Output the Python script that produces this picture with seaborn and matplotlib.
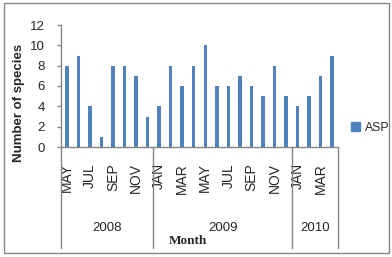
import matplotlib
matplotlib.use("Agg")
import numpy as np
import pandas as pd
import seaborn as sns
import matplotlib.pyplot as plt
from matplotlib.patches import Patch, Rectangle

# data
years = ["2008", "2009", "2010"]
months_2008 = ["MAY", "JUN", "JUL", "AUG", "SEP", "OCT", "NOV", "DEC"]
months_2009 = ["JAN", "FEB", "MAR", "APR", "MAY", "JUN", "JUL", "AUG", "SEP", "OCT", "NOV", "DEC"]
months_2010 = ["JAN", "FEB", "MAR", "APR"]
asp_2008 = [8, 9, 4, 1, 8, 8, 7, 3]
asp_2009 = [4, 8, 6, 8, 10, 6, 6, 7, 6, 5, 8, 5]
asp_2010 = [4, 5, 7, 9]

month_groups = [months_2008, months_2009, months_2010]
value_groups = [asp_2008, asp_2009, asp_2010]

rows = []
for yr, mons, vals in zip(years, month_groups, value_groups):
    for m, v in zip(mons, vals):
        rows.append({"Year": yr, "Month": m, "Key": f"{m} {yr}", "ASP": v})
df = pd.DataFrame(rows)

sns.set_style("white")
plt.rcParams['font.family'] = ['Liberation Sans', 'DejaVu Sans']

W, H = 392, 257
fig = plt.figure(figsize=(W / 100, H / 100), dpi=100)
x0, x1, y_top, y_bot = 61, 338, 25, 147
ax = fig.add_axes([x0 / W, 1 - y_bot / H, (x1 - x0) / W, (y_bot - y_top) / H])

bar_color = "#4F81BD"
sns.barplot(data=df, x="Key", y="ASP", order=list(df["Key"]), color=bar_color,
            saturation=1, width=0.3, ax=ax, errorbar=None, linewidth=0)

ax.set_xlim(-0.5, len(df) - 0.5)
ax.set_ylim(0, 12)
ax.set_yticks(np.arange(0, 13, 2))
ax.set_xlabel("")
ax.set_ylabel("")

gray = "#868686"
for s in ["top", "right"]:
    ax.spines[s].set_visible(False)
for s in ["left", "bottom"]:
    ax.spines[s].set_color(gray)
    ax.spines[s].set_linewidth(1)

ax.tick_params(axis="y", left=True, length=3, width=1, color=gray, pad=8.5, labelsize=9.5)
# every other month label, like the original
pos = list(range(0, len(df), 2))
ax.set_xticks(pos)
ax.set_xticklabels([df["Month"].iloc[p] for p in pos], rotation=90, fontsize=10)
ax.tick_params(axis="x", bottom=False, length=0, pad=11.5)

# year separators and labels below the axis
trans = ax.get_xaxis_transform()
h_px = y_bot - y_top
bounds = [0, len(months_2008), len(months_2008) + len(months_2009), len(df)]
for b in bounds:
    ax.plot([b - 0.5, b - 0.5], [0, -(248 - y_bot) / h_px], transform=trans,
            color=gray, lw=1, clip_on=False)
for i, yr in enumerate(years):
    c = (bounds[i] + bounds[i + 1]) / 2 - 0.5
    ax.text(c, -(228 - y_bot) / h_px, yr, transform=trans, ha="center", va="center", fontsize=9.5)

fig.text(188 / W, 1 - 241 / H, "Month", ha="center", va="center", fontsize=9.5,
         fontweight="bold", family=["Liberation Serif", "DejaVu Serif"])
fig.text(19 / W, 1 - 103 / H, "Number of species", ha="center", va="center", rotation=90,
         fontsize=9.5, fontweight="bold")

fig.legend(handles=[Patch(color=bar_color)], labels=["ASP"], loc="center left",
           bbox_to_anchor=(346 / W, 1 - 128 / H), frameon=False, fontsize=8.8,
           handlelength=0.75, handleheight=0.75, handletextpad=0.4, borderaxespad=0)

fig.add_artist(Rectangle((4 / W, 4 / H), 385 / W, 250 / H, fill=False, edgecolor=gray,
                         lw=1, transform=fig.transFigure))

fig.savefig("out.png", dpi=100)
